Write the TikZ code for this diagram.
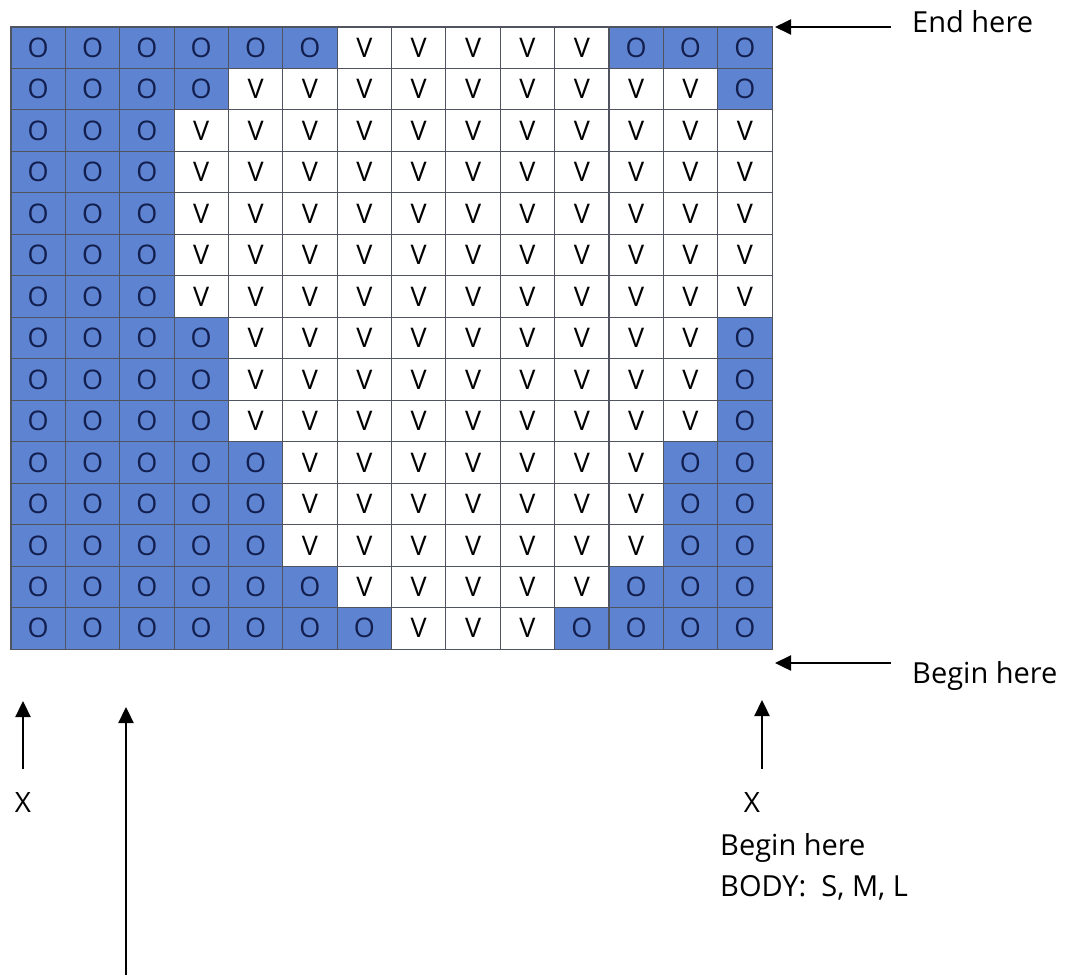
\documentclass[tikz,border=0pt]{standalone}
\usepackage{fontspec}
\setmainfont{Open Sans}
\usetikzlibrary{arrows.meta}
\definecolor{cellblue}{RGB}{94,131,208}
\definecolor{otext}{RGB}{18,30,78}
\definecolor{gridline}{RGB}{80,84,96}
\begin{document}
\begin{tikzpicture}[x=1pt,y=-1pt,
  cell/.style={draw=gridline,line width=1.1pt,minimum width=54.36pt,minimum height=41.47pt,inner sep=0pt,outer sep=0pt,font=\fontsize{27}{27}\selectfont},
  arr/.style={line width=2.4pt,-{Triangle[length=16pt,width=15pt]}},
  lab/.style={font=\fontsize{29}{29}\selectfont,inner sep=0pt,anchor=west},
  xlab/.style={font=\fontsize{28}{28}\selectfont,inner sep=0pt}]
\useasboundingbox (0,0) rectangle (1070,978);
\foreach \r/\a/\b in {1/6/11,2/4/13,3/3/14,4/3/14,5/3/14,6/3/14,7/3/14,8/4/13,9/4/13,10/4/13,11/5/12,12/5/12,13/5/12,14/6/11,15/7/10}{
  \foreach \c in {1,...,14}{
    \ifnum\c>\a
      \ifnum\c>\b \def\fc{cellblue}\def\tc{otext}\def\tx{O}\else\def\fc{white}\def\tc{black}\def\tx{V}\fi
    \else \def\fc{cellblue}\def\tc{otext}\def\tx{O}\fi
    \node[cell,fill=\fc,text=\tc] (c-\r-\c) at ({11+(\c-0.5)*54.36},{27+(\r-0.5)*41.47}) {\tx};
  }
}
% End here
\node[lab] (endlab) at (912,22) {End here};
\coordinate (endtail) at (891,27);
\draw[arr] (endtail) -- ([xshift=3pt]c-1-14.north east);
% Begin here (right)
\node[lab] (beginlab) at (912,676) {Begin here};
\coordinate (begintail) at (891,663);
\coordinate (begintip) at (775,663);
\draw[arr] (begintail) -- (begintip);
% left X
\node[xlab] (xl) at (23,802) {X};
\coordinate (xltail) at (23,769);
\coordinate (xltip) at (23,701);
\draw[arr] (xltail) -- (xltip);
% long arrow
\coordinate (longtail) at (126,975);
\coordinate (longtip) at (126,707);
\draw[arr] (longtail) -- (longtip);
% right X
\node[xlab] (xr) at (752,802) {X};
\coordinate (xrtail) at (762,769);
\coordinate (xrtip) at (762,700);
\draw[arr] (xrtail) -- (xrtip);
\node[lab] (begin2) at (720,848) {Begin here};
\node[lab] (body) at (720,888) {BODY:\ \ S, M, L};
\end{tikzpicture}
\end{document}
